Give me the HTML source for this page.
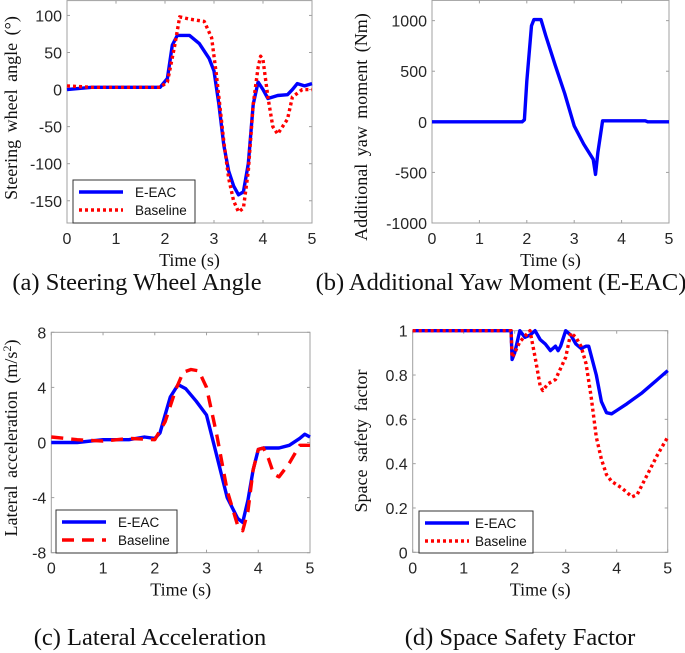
<!DOCTYPE html>
<html><head><meta charset="utf-8"><style>
body{margin:0;background:#fff;width:685px;height:653px;overflow:hidden}
svg{display:block}
.tk{font-family:"Liberation Sans",sans-serif;font-size:16px;fill:#262626}
.lb{font-family:"Liberation Serif",serif;font-size:18px;fill:#111}
.yl{word-spacing:3px}
.cap{font-family:"Liberation Serif",serif;font-size:24.5px;fill:#111}
.lg{font-family:"Liberation Sans",sans-serif;font-size:13.5px;fill:#111}
</style></head><body>
<svg id="fig" width="685" height="653" viewBox="0 0 685 653" xmlns="http://www.w3.org/2000/svg"></svg>
<script>
const xTicks=[0,1,2,3,4,5];
const aTicks=[-150,-100,-50,0,50,100];
const aT1=[0,0.5,1,1.5,1.9,2.05,2.15,2.25,2.5,2.7,2.9,3.0,3.1,3.2,3.3,3.4,3.5,3.6,3.7,3.8,3.9,4.0,4.1,4.3,4.5,4.6,4.7,4.85,5];
const aE=[0,3,3,3,3,15,60,73,73,62,42,25,-20,-75,-110,-130,-142,-138,-100,-20,10,0,-12,-8,-7,0,8,5,8];
const aT2=[0,0.5,1,1.5,1.9,2.05,2.2,2.3,2.5,2.8,2.95,3.05,3.2,3.3,3.4,3.5,3.6,3.7,3.8,3.9,3.95,4.0,4.1,4.2,4.3,4.5,4.6,4.8,5];
const aB=[5,3,3,3,3,10,60,98,95,92,70,20,-70,-120,-150,-165,-160,-110,-20,30,45,40,-10,-50,-60,-40,-10,0,0];
const bTicks=[-1000,-500,0,500,1000];
const bT=[0,1.9,1.95,2.0,2.1,2.15,2.3,2.4,2.6,2.8,3.0,3.2,3.4,3.45,3.5,3.6,4.5,4.55,5];
const bE=[0,0,20,400,950,1010,1010,850,560,280,-40,-220,-370,-520,-300,10,10,0,0];
const cTicks=[-8,-4,0,4,8];
const cT1=[0,0.5,1,1.5,1.8,2.0,2.1,2.2,2.3,2.45,2.6,2.8,3.0,3.2,3.4,3.6,3.7,3.8,3.9,4.0,4.1,4.4,4.6,4.8,4.9,5];
const cE=[0,0,0.2,0.2,0.4,0.3,0.7,2,3.3,4.2,3.9,3,2,-1,-4,-5.5,-5.8,-4.2,-2,-0.5,-0.4,-0.4,-0.2,0.3,0.6,0.4];
const cT2=[0,0.5,1,1.5,2.0,2.2,2.4,2.55,2.7,2.85,3.0,3.2,3.4,3.6,3.7,3.8,3.9,4.0,4.1,4.2,4.3,4.4,4.6,4.8,5];
const cB=[0.4,0.2,0.1,0.3,0.2,1.5,3.8,5.1,5.3,5.2,4,0.5,-3.5,-6,-6.4,-5,-2,-0.5,-0.4,-1.2,-2.3,-2.5,-1.5,-0.2,-0.2];
const dTicks=[0,0.2,0.4,0.6,0.8,1];
const dTickLabels=["0","0.2","0.4","0.6","0.8","1"];
const dT1=[0,1.93,1.95,2.0,2.1,2.2,2.3,2.4,2.5,2.6,2.7,2.8,2.85,2.9,3.0,3.1,3.2,3.3,3.4,3.45,3.6,3.7,3.8,3.9,4.0,4.2,4.5,4.8,5];
const dE=[1,1,0.87,0.9,1.0,0.97,0.98,1.0,0.96,0.94,0.91,0.93,0.91,0.93,1.0,0.98,0.94,0.92,0.93,0.93,0.8,0.68,0.63,0.625,0.64,0.67,0.72,0.78,0.82];
const dT2=[0,1.93,1.95,2.0,2.1,2.3,2.4,2.5,2.55,2.65,2.8,3.0,3.1,3.2,3.3,3.4,3.5,3.6,3.7,3.8,3.9,4.1,4.3,4.4,4.6,4.8,5];
const dB=[1,1,0.88,0.9,0.95,1.0,0.88,0.75,0.73,0.76,0.78,0.88,0.99,0.97,0.93,0.85,0.7,0.52,0.42,0.35,0.32,0.29,0.25,0.26,0.35,0.44,0.52];

const NS="http://www.w3.org/2000/svg";
const svg=document.getElementById('fig');
function mk(tag,at,parent,txt){const e=document.createElementNS(NS,tag);for(const k in at)e.setAttribute(k,at[k]);if(txt!==undefined)e.textContent=txt;(parent||svg).appendChild(e);return e;}

function panel(o){
  const g=mk('g',{});
  
  
  const X=v=>o.x0+(v-0)/5*(o.x1-o.x0);
  const Y=v=>o.yb+(v-o.ymin)/(o.ymax-o.ymin)*(o.yt-o.yb);
  const box=mk('rect',{x:o.x0,y:o.yt,width:o.x1-o.x0,height:o.yb-o.yt,fill:'none',stroke:'#a0a0a0','stroke-width':1},g);
  
  
  xTicks.forEach(t=>{
    mk('line',{x1:X(t),x2:X(t),y1:o.yb,y2:o.yb-3,stroke:'#a0a0a0'},g);
    mk('line',{x1:X(t),x2:X(t),y1:o.yt,y2:o.yt+3,stroke:'#a0a0a0'},g);
    const tx=mk('text',{x:X(t),y:o.yb+21,'text-anchor':'middle',class:'tk'},g,String(t));
    
    
  });
  o.yTicks.forEach((t,i)=>{
    mk('line',{x1:o.x0,x2:o.x0+3,y1:Y(t),y2:Y(t),stroke:'#a0a0a0'},g);
    mk('line',{x1:o.x1,x2:o.x1-3,y1:Y(t),y2:Y(t),stroke:'#a0a0a0'},g);
    const ty=mk('text',{x:o.x0-5,y:Y(t)+6,'text-anchor':'end',class:'tk'},g,o.yLabels?o.yLabels[i]:String(t));
    
    
  });
  const xl=mk('text',{x:(o.x0+o.x1)/2,y:o.yb+43,'text-anchor':'middle',class:'lb'},g,'Time (s)');
  
  
  const yl=mk('text',{x:0,y:0,'text-anchor':'middle',class:'lb yl',transform:`translate(${o.ylx},${o.ylc}) rotate(-90)`},g);
  yl.innerHTML=o.ylab;
  
  
  o.series.forEach(s=>{
    const d=s.t.map((t,i)=>(i?'L':'M')+X(t).toFixed(1)+' '+Y(s.v[i]).toFixed(1)).join(' ');
    const p=mk('path',{d:d,fill:'none',stroke:s.c,'stroke-width':3.4,'stroke-linejoin':'round','stroke-dasharray':s.dash||'none'},g);
    
    
  });
  if(o.leg){
    const L=o.leg;
    const lg=mk('g',{},g);
    
    
    mk('rect',{x:L.x,y:L.y,width:L.w,height:L.h,fill:'#fff',stroke:'#333','stroke-width':1},lg);
    o.series.forEach((s,i)=>{
      const yy=L.y+12+i*18;
      mk('line',{x1:L.x+6,x2:L.x+50,y1:yy,y2:yy,stroke:s.c,'stroke-width':3.4,'stroke-dasharray':s.dash||'none'},lg);
      const t=mk('text',{x:L.x+L.tx,y:yy+5,class:'lg'},lg,s.label);
      
      
    });
  }
  const c=mk('text',{x:o.capx,y:o.capy,'text-anchor':'middle',class:'cap'},g,o.cap);
  
  
}
panel({name:'steering-angle-chart',x0:67,x1:312,yt:0.6,yb:223,ymin:-180,ymax:120,yTicks:aTicks,ylx:17,ylc:108,
 ylab:'Steering wheel angle (°)',
 series:[{t:aT1,v:aE,c:'#0000ff',label:'E-EAC',name:'line-e-eac'},{t:aT2,v:aB,c:'#ff0000',dash:'3,3',label:'Baseline',name:'line-baseline'}],
 leg:{x:73,y:180,w:122,h:43,tx:62},cap:'(a) Steering Wheel Angle',capx:137,capy:290});
panel({name:'yaw-moment-chart',x0:432,x1:669,yt:0.4,yb:223,ymin:-1000,ymax:1200,yTicks:bTicks,ylx:367,ylc:127,
 ylab:'Additional yaw moment (Nm)',
 series:[{t:bT,v:bE,c:'#0000ff',label:'E-EAC',name:'line-e-eac'}],
 cap:'(b) Additional Yaw Moment (E-EAC)',capx:501,capy:290});
panel({name:'lateral-acceleration-chart',x0:51.3,x1:310,yt:332.3,yb:552.7,ymin:-8,ymax:8,yTicks:cTicks,ylx:17,ylc:438,
 ylab:'Lateral acceleration (m/s<tspan dy="-6" font-size="12">2</tspan><tspan dy="6">)</tspan>',
 series:[{t:cT1,v:cE,c:'#0000ff',label:'E-EAC',name:'line-e-eac'},{t:cT2,v:cB,c:'#ff0000',dash:'12,8',label:'Baseline',name:'line-baseline'}],
 leg:{x:56,y:510,w:121,h:43,tx:62},cap:'(c) Lateral Acceleration',capx:150,capy:645});
panel({name:'space-safety-chart',x0:412.7,x1:667.7,yt:330.7,yb:552.3,ymin:0,ymax:1,yTicks:dTicks,yLabels:dTickLabels,ylx:367,ylc:441,
 ylab:'Space safety factor',
 series:[{t:dT1,v:dE,c:'#0000ff',label:'E-EAC',name:'line-e-eac'},{t:dT2,v:dB,c:'#ff0000',dash:'3,3',label:'Baseline',name:'line-baseline'}],
 leg:{x:419,y:511,w:114,h:42,tx:56},cap:'(d) Space Safety Factor',capx:520,capy:645});
</script>
</body></html>
